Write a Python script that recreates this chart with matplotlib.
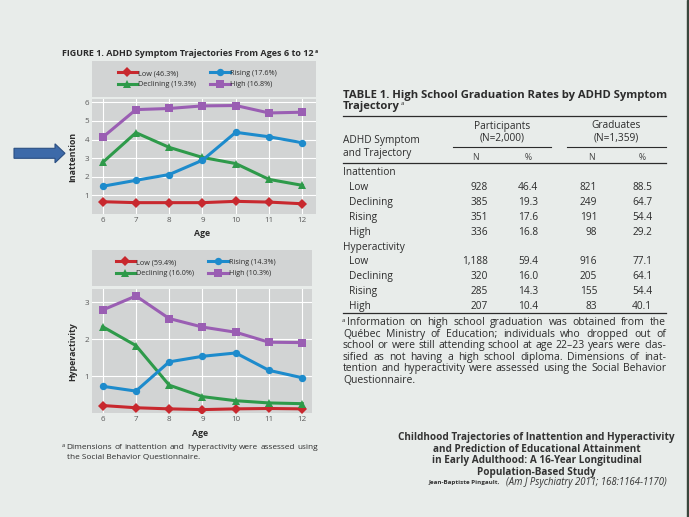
import matplotlib
matplotlib.use('Agg')
import matplotlib.pyplot as plt
import matplotlib.patches as mpatches

plt.rcParams['font.family'] = ['Open Sans', 'DejaVu Sans']

# ---- figure data ----
ages = [6, 7, 8, 9, 10, 11, 12]
groups = ['Low', 'Declining', 'Rising', 'High']

inatt = {
    'Low':       [0.66, 0.61, 0.61, 0.61, 0.68, 0.64, 0.55],
    'Declining': [2.77, 4.37, 3.58, 3.04, 2.71, 1.86, 1.54],
    'Rising':    [1.49, 1.81, 2.12, 2.89, 4.39, 4.15, 3.83],
    'High':      [4.12, 5.61, 5.67, 5.81, 5.83, 5.43, 5.47],
}
inatt_shares = ['46.3%', '19.3%', '17.6%', '16.8%']

hyper = {
    'Low':       [0.21, 0.15, 0.12, 0.10, 0.12, 0.13, 0.12],
    'Declining': [2.34, 1.83, 0.76, 0.45, 0.34, 0.28, 0.26],
    'Rising':    [0.73, 0.60, 1.39, 1.54, 1.63, 1.16, 0.96],
    'High':      [2.79, 3.17, 2.56, 2.33, 2.19, 1.92, 1.91],
}
hyper_shares = ['59.4%', '16.0%', '14.3%', '10.3%']

# ---- table data ----
inatt_n = ['928', '385', '351', '336']
inatt_pct = ['46.4', '19.3', '17.6', '16.8']
inatt_grad_n = ['821', '249', '191', '98']
inatt_grad_pct = ['88.5', '64.7', '54.4', '29.2']
hyper_n = ['1,188', '320', '285', '207']
hyper_pct = ['59.4', '16.0', '14.3', '10.4']
hyper_grad_n = ['916', '205', '155', '83']
hyper_grad_pct = ['77.1', '64.1', '54.4', '40.1']

footnote = [
    "Information on high school graduation was obtained from the",
    "Québec Ministry of Education; individuals who dropped out of",
    "school or were still attending school at age 22–23 years were clas-",
    "sified as not having a high school diploma. Dimensions of inat-",
    "tention and hyperactivity were assessed using the Social Behavior",
    "Questionnaire.",
]
fig_note = [
    "Dimensions of inattention and hyperactivity were assessed using",
    "the Social Behavior Questionnaire.",
]
citation = [
    "Childhood Trajectories of Inattention and Hyperactivity",
    "and Prediction of Educational Attainment",
    "in Early Adulthood: A 16-Year Longitudinal",
    "Population-Based Study",
]

colors = {'Low': '#c8282e', 'Declining': '#2e9a4a', 'Rising': '#1d8bcc', 'High': '#9a5eb3'}
markers = {'Low': 'D', 'Declining': '^', 'Rising': 'o', 'High': 's'}
msizes = {'Low': 5.0, 'Declining': 6.0, 'Rising': 5.3, 'High': 5.7}

W, H = 689, 517
BG = '#e8ecea'
PANEL = '#d2d4d4'
INK = '#2c2c2c'

fig = plt.figure(figsize=(W / 100, H / 100), dpi=100, facecolor=BG)
renderer = fig.canvas.get_renderer()

ov = fig.add_axes([0, 0, 1, 1])
ov.set_xlim(0, W)
ov.set_ylim(H, 0)
ov.axis('off')


def px_axes(l, t, r, b):
    return fig.add_axes([l / W, 1 - b / H, (r - l) / W, (b - t) / H])


def put(x, y, s, width=None, size=7, ha='left', **kw):
    kw.setdefault('color', INK)
    t = ov.text(x, y, s, fontsize=size, ha=ha, va='center', **kw)
    if width:
        w = t.get_window_extent(renderer).width
        t.set_fontsize(size * width / w)
    return t


def fit_size(lines, width, **kw):
    # largest size at which every line still fits the measure
    best = 100
    for line in lines:
        t = ov.text(0, 0, line, fontsize=10, **kw)
        best = min(best, 10 * width / t.get_window_extent(renderer).width)
        t.remove()
    return best


def justify(line, x0, x1, y, size, **kw):
    kw.setdefault('color', INK)
    words = line.split()
    texts = [ov.text(0, y, w, fontsize=size, va='center', **kw) for w in words]
    widths = [t.get_window_extent(renderer).width for t in texts]
    gap = (x1 - x0 - sum(widths)) / (len(words) - 1)
    x = x0
    for t, w in zip(texts, widths):
        t.set_x(x)
        x += w + gap


def trajectory_panel(data, shares, ylabel, yticks, ylim, box, leg_box, label_top):
    ax = px_axes(*box)
    for g in groups:
        ax.plot(ages, data[g], color=colors[g], marker=markers[g], ms=msizes[g],
                mew=0, lw=2.2, label='{} ({})'.format(g, shares[groups.index(g)]))
    ax.set_facecolor(PANEL)
    ax.set_xlim(5.68, 12 + (box[2] - 302.3) / 33.3)
    ax.set_ylim(*ylim)
    ax.set_xticks(ages)
    ax.set_yticks(yticks)
    ax.tick_params(length=0, labelsize=5.8, colors='#5a5a5a', pad=2.2)
    ax.grid(color='white', lw=0.8)
    ax.set_axisbelow(True)
    for s in ax.spines.values():
        s.set_visible(False)
    ax.set_xlabel('Age', fontsize=6.3, weight='bold', color=INK)
    ax.xaxis.set_label_coords(0.49, (box[3] - label_top) / (box[3] - box[1]))
    ax.set_ylabel(ylabel, fontsize=6.3, weight='bold', color=INK)
    ax.yaxis.set_label_coords((77.5 - box[0]) / (box[2] - box[0]), 0.5)

    lax = px_axes(*leg_box)
    lax.set_facecolor(PANEL)
    lax.set_xticks([])
    lax.set_yticks([])
    for s in lax.spines.values():
        s.set_visible(False)
    h, l = ax.get_legend_handles_labels()
    lax.legend(h, l, ncol=2, loc='center', bbox_to_anchor=(0.47, 0.5), frameon=False,
               fontsize=5.2, handlelength=2.7, handletextpad=0.1, columnspacing=2.0,
               labelspacing=0.55, labelcolor=INK)
    return ax


trajectory_panel(inatt, inatt_shares, 'Inattention', [1, 2, 3, 4, 5, 6], (0, 6.18),
                 (92, 99, 316, 214), (92, 61, 316, 97), 228.5)
trajectory_panel(hyper, hyper_shares, 'Hyperactivity', [1, 2, 3], (0, 3.35),
                 (92, 289.3, 312, 413.3), (92, 250, 312, 286), 428.5)

# figure caption and footnote
put(62, 54, 'FIGURE 1. ADHD Symptom Trajectories From Ages 6 to 12', width=252, size=6, weight='bold')
put(314.5, 51.5, 'a', size=3.8, weight='bold')
put(61.5, 445.5, 'a', size=4.2)
ns = fit_size(fig_note[:1], 318 - 66.7)
justify(fig_note[0], 66.7, 318, 447.7, ns * 0.99)
put(66.7, 457.3, fig_note[1], size=ns * 0.99)

# arrow pointing at the inattention panel
ov.add_patch(mpatches.FancyArrow(14, 153.3, 51, 0, width=10, head_width=19, head_length=10,
                                 length_includes_head=True, fc='#3d6aa9', ec='#2b4f82', lw=0.8))

# ---- table ----
L, R = 343, 666
BODY = 7.3
ts = put(L, 95.7, 'TABLE 1. High School Graduation Rates by ADHD Symptom', width=R - L,
         size=7.5, weight='bold').get_fontsize()
tt = put(L, 106.5, 'Trajectory', size=ts, weight='bold')
tw = tt.get_window_extent(renderer).width
put(L + tw + 0.5, 103.5, 'a', size=4.4)

ov.plot([L, R], [115.7, 115.7], color=INK, lw=0.9)
put(501.7, 126, 'Participants', ha='center', size=BODY)
put(501.7, 137.7, '(N=2,000)', ha='center', size=BODY)
put(616, 126, 'Graduates', ha='center', size=BODY)
put(616, 137.7, '(N=1,359)', ha='center', size=BODY)
ov.plot([452.7, 550.7], [147, 147], color=INK, lw=0.8)
ov.plot([566.7, R], [147, 147], color=INK, lw=0.8)
put(L, 141, 'ADHD Symptom', size=BODY)
put(L, 153.7, 'and Trajectory', size=BODY)
for x, s in zip([475.7, 528.3, 591, 641.7], ['N', '%', 'N', '%']):
    put(x, 157.5, s, ha='center', size=6.2, color='#444444')
ov.plot([L, R], [162.7, 162.7], color=INK, lw=0.9)

col_right = [488, 538, 597.3, 652.3]
row_y = [172.7 + 14.88 * i for i in range(10)]
sections = [('Inattention', [inatt_n, inatt_pct, inatt_grad_n, inatt_grad_pct]),
            ('Hyperactivity', [hyper_n, hyper_pct, hyper_grad_n, hyper_grad_pct])]
k = 0
for name, cols in sections:
    put(L, row_y[k], name, size=BODY)
    k += 1
    for i, g in enumerate(groups):
        put(349, row_y[k], g, size=BODY)
        for x, col in zip(col_right, cols):
            put(x, row_y[k], col[i], ha='right', size=BODY)
        k += 1
ov.plot([L, R], [313.3, 313.3], color=INK, lw=0.9)

put(341.5, 320.5, 'a', size=4.4)
fs = fit_size(footnote[1:-1], R - L) * 0.98
fy = [322.7 + 11.47 * i for i in range(len(footnote))]
justify(footnote[0], 346.7, R, fy[0], fs)
for line, y in zip(footnote[1:-1], fy[1:-1]):
    justify(line, L, R, y, fs)
put(L, fy[-1], footnote[-1], size=fs)

# ---- citation ----
cy = [437.7, 449.3, 461, 472]
first = put(536.7, cy[0], citation[0], width=277, size=6.2, ha='center', weight='bold', color='#333333')
for line, y in zip(citation[1:], cy[1:]):
    put(536.7, y, line, size=first.get_fontsize(), ha='center', weight='bold', color='#333333')
put(429, 482.7, 'Jean-Baptiste Pingault,', width=72, size=4.4, weight='bold', color='#333333')
put(506, 482.7, '(Am J Psychiatry 2011; 168:1164-1170)', width=160, size=4.6, style='italic', color='#333333')

# dark edge of the projected slide
ov.add_patch(mpatches.Rectangle((686.5, 0), 2.5, H, color='#3a463c'))

fig.savefig('out.png', dpi=100, facecolor=BG)
